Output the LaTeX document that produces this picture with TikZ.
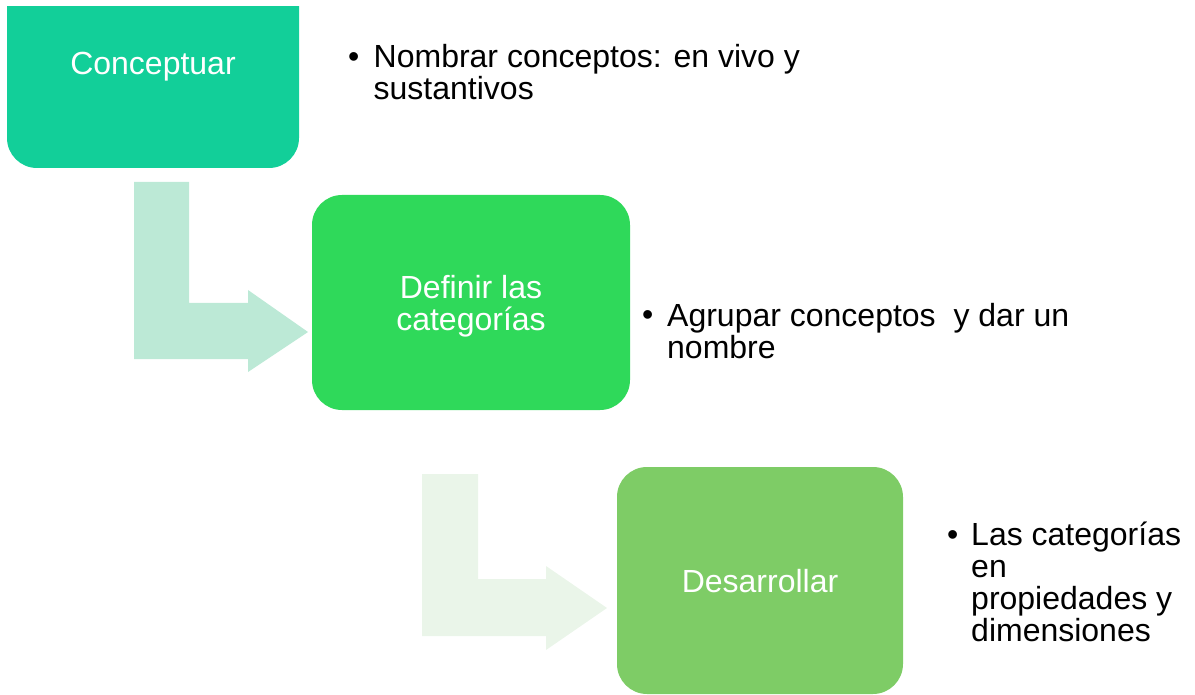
\documentclass[tikz,border=0pt]{standalone}
\usepackage{fontspec}
\setmainfont{Liberation Sans}
\definecolor{cA}{RGB}{18,207,153}
\definecolor{cB}{RGB}{47,217,90}
\definecolor{cC}{RGB}{126,204,102}
\definecolor{arA}{RGB}{188,233,214}
\definecolor{arB}{RGB}{234,245,233}
\begin{document}
\begin{tikzpicture}[x=1pt,y=-1pt,
  every node/.style={font=\fontsize{32}{32}\selectfont},
  stepbox/.style={rectangle,rounded corners=30pt,inner sep=0pt,text=white,align=center,text depth=0pt},
  bullettxt/.style={anchor=base west,inner sep=0pt,align=left,text=black},
  bulletdot/.style={anchor=base west,inner sep=0pt,text=black}]
\useasboundingbox (0,0) rectangle (1195,695);
% bent arrows
\fill[arA] (134,182) -- (189,182) -- (189,303) -- (248,303) -- (248,290) -- (308,332)
  -- (248,372) -- (248,359) -- (134,359) -- cycle;
\fill[arB] (422,474) -- (478,474) -- (478,579) -- (546,579) -- (546,566) -- (607,608)
  -- (546,650) -- (546,636) -- (422,636) -- cycle;
% boxes
\begin{scope}
  \clip (0,7) rectangle (1195,695);
  \node[stepbox,fill=cA,minimum width=292pt,minimum height=209pt] (c1) at (153,63.5) {Conceptuar};
\end{scope}
\node[stepbox,fill=cB,minimum width=318pt,minimum height=215pt] (c2) at (471,302.5) {Definir las\\categorías};
\node[stepbox,fill=cC,minimum width=286pt,minimum height=227pt] (c3) at (760,580.5) {Desarrollar};
% bullets (text nodes anchored at the baseline of their last line)
\node[bulletdot] (b1) at (348,68) {•};
\node[bullettxt] (t1) at (373.5,100) {Nombrar conceptos: en vivo y\\sustantivos};
\node[bulletdot] (b2) at (642,326) {•};
\node[bullettxt] (t2) at (667,358) {Agrupar conceptos~ y dar un\\nombre};
\node[bulletdot] (b3) at (947,545) {•};
\node[bullettxt] (t3) at (971,641) {Las categorías\\en\\propiedades y\\dimensiones};
\end{tikzpicture}
\end{document}
